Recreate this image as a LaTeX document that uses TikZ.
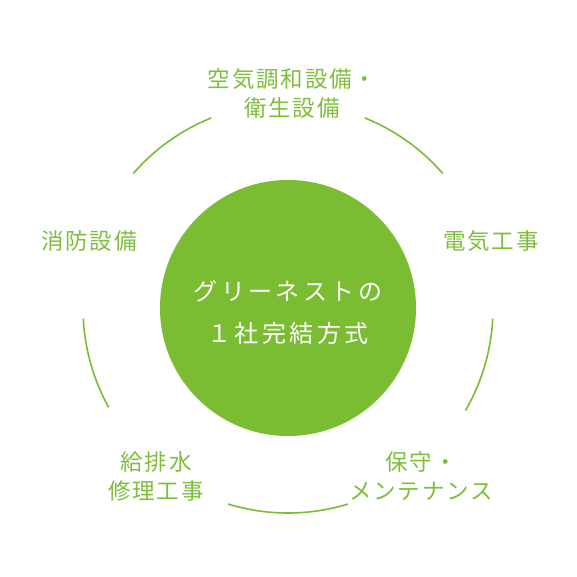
\documentclass[tikz,border=0pt]{standalone}
\usepackage{fontspec}
\setmainfont{Noto Sans CJK JP}[LetterSpace=8]
\newfontfamily\corefont{Noto Sans CJK JP}[LetterSpace=14]
\usetikzlibrary{calc}
\definecolor{leaf}{RGB}{122,188,50}
\definecolor{leaftext}{RGB}{125,190,58}

\begin{document}
\begin{tikzpicture}[x=1bp,y=1bp,
    ring/.style={draw=leaf,line width=1.6bp},
    field/.style={text=leaftext,font=\fontsize{22.5bp}{29bp}\selectfont,align=center,inner sep=0pt}]
  \useasboundingbox (0,0) rectangle (577,577);
  % core circle
  \node[circle,fill=leaf,minimum size=256bp,inner sep=0pt] (core) at (288,269) {};
  \node[text=white,font=\corefont\fontsize{24bp}{42bp}\selectfont,align=center,inner sep=0pt]
     (motto) at ($(core.center)+(0,-4)$) {グリーネストの\\１社完結方式};
  % outer ring pieces
  \draw[ring] ($(core.center)+(112:205bp)$) arc[start angle=112,end angle=139,radius=205bp];
  \draw[ring] ($(core.center)+(41:205bp)$)  arc[start angle=41,end angle=68,radius=205bp];
  \draw[ring] ($(core.center)+(-30:205bp)$) arc[start angle=-30,end angle=-3,radius=205bp];
  \draw[ring] ($(core.center)+(-107:205bp)$) arc[start angle=-107,end angle=-73,radius=205bp];
  \draw[ring] ($(core.center)+(183:205bp)$) arc[start angle=183,end angle=209,radius=205bp];
  % the five fields
  \node[field] (hvac)  at (292,484) {空気調和設備・\\衛生設備};
  \node[field] (elec)  at (491,336) {電気工事};
  \node[field] (fire)  at (89,336)  {消防設備};
  \node[field] (maint) at (421,101) {保守・\\メンテナンス};
  \node[field] (water) at (156,101) {給排水\\修理工事};
\end{tikzpicture}
\end{document}
